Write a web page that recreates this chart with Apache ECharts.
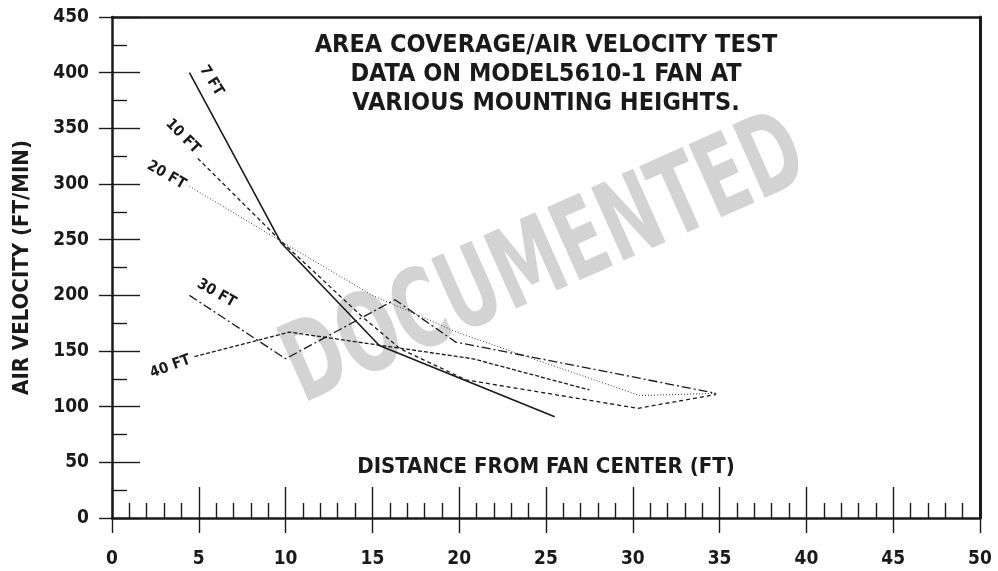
<!DOCTYPE html>
<html><head><meta charset="utf-8">
<script src="https://cdn.jsdelivr.net/npm/echarts@6/dist/echarts.min.js"></script>
<style>html,body{margin:0;padding:0;background:#fff}#c{width:998px;height:571px}</style>
</head><body><div id="c"></div>
<script>
// ---- data ----
const xTicks = [0,5,10,15,20,25,30,35,40,45,50];
const yTicks = [0,50,100,150,200,250,300,350,400,450];
const seriesNames = ['7 FT','10 FT','20 FT','30 FT','40 FT'];
const ft7  = [[4.46,400],[9.75,247],[15.4,155],[25.5,91]];
const ft10 = [[4.94,323],[9.65,250],[14.4,181],[16.6,152],[20.4,124],[30.3,98.5],[34.8,111]];
const ft20 = [[4.46,298],[10,246],[15,200],[20,166],[25,139],[30.4,110],[34.8,112]];
const ft30 = [[4.46,200],[10.0,143],[16.3,196],[19.8,158],[34.8,112]];
const ft40 = [[4.75,145],[10.2,167],[20.8,143],[27.5,115]];
const titleLines = ['AREA COVERAGE/AIR VELOCITY TEST','DATA ON MODEL5610-1 FAN AT','VARIOUS MOUNTING HEIGHTS.'];
const xTitle = 'DISTANCE FROM FAN CENTER (FT)';
const yTitle = 'AIR VELOCITY (FT/MIN)';
const watermark = 'DOCUMENTED';

const FONT = "'Liberation Sans Narrow','Arial Narrow','DejaVu Sans Condensed',sans-serif";
const INK = '#1a1a1a';
const chart = echarts.init(document.getElementById('c'));

const dataSets = [ft7, ft10, ft20, ft30, ft40];
const styles = [
  {type:'solid', width:1.6, color:INK},
  {type:[4,3], width:1.3, color:INK},
  {type:[1,2], width:1, color:'#333'},
  {type:[9,3,2,3], width:1.3, color:INK},
  {type:[4,2], width:1.3, color:INK}
];
// label placement relative to first point (px), rotation in degrees
const labelPos = [
  {dx:22, dy:8, rot:-58},
  {dx:-15, dy:-22, rot:-45},
  {dx:-23, dy:-11, rot:-30},
  {dx:27, dy:-2, rot:-30},
  {dx:-24, dy:10, rot:20}
];

const axisLineStyle = {color:INK, width:2.5};
const tickStyle = {color:INK, width:1.4};
const labelStyle = {fontFamily:FONT, fontWeight:'bold', fontSize:19, color:INK};

chart.setOption({
  animation:false,
  grid:{left:112, right:18, top:17, bottom:53},
  xAxis:[
    {type:'value', min:0, max:50, interval:5, position:'bottom',
     axisLine:{show:true, onZero:false, lineStyle:axisLineStyle},
     axisTick:{show:true, inside:true, length:31, lineStyle:tickStyle},
     minorTick:{show:true, splitNumber:5, length:15, lineStyle:tickStyle},
     axisLabel:{show:true, margin:32, ...labelStyle, formatter:v=>xTicks.includes(v)?String(v):''},
     splitLine:{show:false}},
    {type:'value', min:0, max:50, interval:5, position:'bottom',
     axisLine:{show:false}, axisTick:{show:true, inside:false, length:15, lineStyle:tickStyle},
     axisLabel:{show:false}, splitLine:{show:false}},
    {type:'value', min:0, max:50, interval:5, position:'top',
     axisLine:{show:true, onZero:false, lineStyle:axisLineStyle},
     axisTick:{show:false}, axisLabel:{show:false}, splitLine:{show:false}}
  ],
  yAxis:[
    {type:'value', min:0, max:450, interval:50, position:'left',
     axisLine:{show:true, onZero:false, lineStyle:axisLineStyle},
     axisTick:{show:true, inside:true, length:28, lineStyle:tickStyle},
     minorTick:{show:true, splitNumber:2, length:15, lineStyle:tickStyle},
     axisLabel:{show:true, margin:23, ...labelStyle, formatter:v=>yTicks.includes(v)?String(v):''},
     splitLine:{show:false}},
    {type:'value', min:0, max:450, interval:50, position:'left',
     axisLine:{show:false}, axisTick:{show:true, inside:false, length:13, lineStyle:tickStyle},
     axisLabel:{show:false}, splitLine:{show:false}},
    {type:'value', min:0, max:450, interval:50, position:'right',
     axisLine:{show:true, onZero:false, lineStyle:{color:INK, width:3}},
     axisTick:{show:false}, axisLabel:{show:false}, splitLine:{show:false}}
  ],
  series: dataSets.map((d,i)=>({
    name:seriesNames[i], type:'line', xAxisIndex:0, yAxisIndex:0,
    data:d, showSymbol:false, symbol:'none', z:5,
    lineStyle:styles[i]
  }))
});

// texts positioned from data coordinates / chart layout
const g = [];
const cx = chart.convertToPixel({xAxisIndex:0}, 25);
g.push({type:'text', z:1, x:cx, y:264, rotation:24*Math.PI/180, scaleX:0.71,
  style:{text:watermark, fontFamily:FONT, fontWeight:'bold', fontSize:110, fill:'#d3d3d3',
    align:'center', verticalAlign:'middle'}});
titleLines.forEach((t,i)=>{
  g.push({type:'text', z:10, x:cx, y:45+i*29,
    style:{text:t, fontFamily:FONT, fontWeight:'bold', fontSize:25, fill:INK, align:'center', verticalAlign:'middle'}});
});
g.push({type:'text', z:10, x:cx, y:467,
  style:{text:xTitle, fontFamily:FONT, fontWeight:'bold', fontSize:22, fill:INK, align:'center', verticalAlign:'middle'}});
g.push({type:'text', z:10, x:22, y:chart.convertToPixel({yAxisIndex:0}, 225), rotation:Math.PI/2,
  style:{text:yTitle, fontFamily:FONT, fontWeight:'bold', fontSize:22, fill:INK, align:'center', verticalAlign:'middle'}});
dataSets.forEach((d,i)=>{
  const p = chart.convertToPixel({xAxisIndex:0, yAxisIndex:0}, d[0]);
  const L = labelPos[i];
  g.push({type:'text', z:10, x:p[0]+L.dx, y:p[1]+L.dy, rotation:L.rot*Math.PI/180,
    style:{text:seriesNames[i], fontFamily:FONT, fontWeight:'bold', fontSize:15, fill:INK, align:'center', verticalAlign:'middle'}});
});
chart.setOption({graphic:g});
</script></body></html>
